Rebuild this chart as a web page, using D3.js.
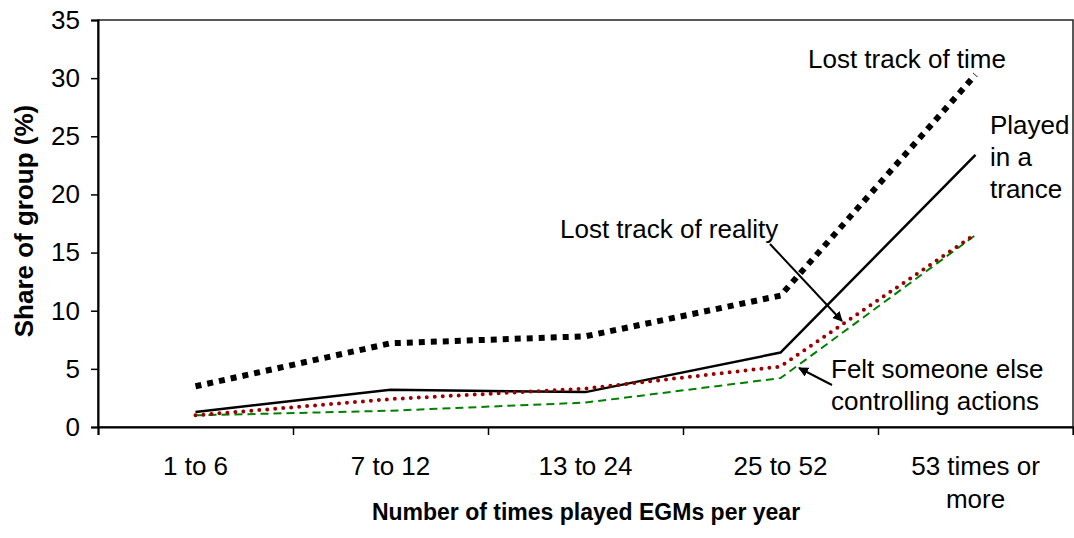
<!DOCTYPE html>
<html>
<head>
<meta charset="utf-8">
<script src="https://cdn.jsdelivr.net/npm/d3@7"></script>
<style>
  body { margin: 0; background: #fff; }
  text { font-family: Arial, "Liberation Sans", sans-serif; fill: #000; }
</style>
</head>
<body>
<div class="chart"></div>
<script>
var categories = ["1 to 6", "7 to 12", "13 to 24", "25 to 52", "53 times or more"];
var lostTime = [3.5, 7.2, 7.8, 11.3, 30.3];
var trance = [1.3, 3.2, 3.0, 6.4, 23.4];
var lostReality = [1.0, 2.4, 3.3, 5.2, 16.6];
var feltControl = [1.0, 1.4, 2.1, 4.2, 16.5];
var yTicks = [0, 5, 10, 15, 20, 25, 30, 35];

var svgWidth = 1074;
var svgHeight = 538;
var margin = { top: 20, right: 1, bottom: 111, left: 98 };
var width = svgWidth - margin.left - margin.right;
var height = svgHeight - margin.top - margin.bottom;

var svg = d3.select(".chart")
  .append("svg")
  .attr("width", svgWidth)
  .attr("height", svgHeight);

var chart = svg.append("g")
  .attr("transform", "translate(" + margin.left + "," + margin.top + ")");

var xBand = d3.scaleBand().domain(categories).range([0, width]);
var xEdge = d3.scaleLinear().domain([0, categories.length]).range([0, width]);
var yScale = d3.scaleLinear().domain([0, 35]).range([height, 0]);

// plot border (top and right)
chart.append("rect")
  .attr("width", width)
  .attr("height", height)
  .attr("fill", "none")
  .attr("stroke", "#222")
  .attr("stroke-width", 1.5);

// y axis
var leftAxis = d3.axisLeft(yScale).tickValues(yTicks).tickSize(7).tickPadding(11);
var gy = chart.append("g").call(leftAxis);
gy.select(".domain").attr("stroke-width", 2);
gy.selectAll(".tick line").attr("stroke-width", 1.5);
gy.selectAll(".tick text").style("font-size", "26px");

// x axis: ticks at category boundaries
var bottomAxis = d3.axisBottom(xEdge).ticks(categories.length).tickSize(8).tickFormat("");
var gx = chart.append("g")
  .attr("transform", "translate(0," + height + ")")
  .call(bottomAxis);
gx.select(".domain").attr("stroke-width", 2);
gx.selectAll(".tick line").attr("stroke-width", 1.5);

// category labels
chart.selectAll(".xlabel")
  .data(categories)
  .enter().append("text")
  .attr("class", "xlabel")
  .attr("text-anchor", "middle")
  .style("font-size", "26px")
  .each(function(d) {
    var t = d3.select(this);
    var parts = d === "53 times or more" ? ["53 times or", "more"] : [d];
    parts.forEach(function(p, i) {
      t.append("tspan")
        .attr("x", xBand(d) + xBand.bandwidth() / 2)
        .attr("y", height + 48 + i * 33)
        .text(p);
    });
  });

// lines
var line = d3.line()
  .x(function(d, i) { return xBand(categories[i]) + xBand.bandwidth() / 2; })
  .y(function(d) { return yScale(d); });

chart.append("path").datum(feltControl)
  .attr("d", line).attr("fill", "none")
  .attr("stroke", "#008000").attr("stroke-width", 2)
  .attr("stroke-dasharray", "8,5");

chart.append("path").datum(trance)
  .attr("d", line).attr("fill", "none")
  .attr("stroke", "#000").attr("stroke-width", 2.5);

chart.append("path").datum(lostReality)
  .attr("d", line).attr("fill", "none")
  .attr("stroke", "#990000").attr("stroke-width", 4)
  .attr("stroke-linecap", "round")
  .attr("stroke-dasharray", "0,8");

chart.append("path").datum(lostTime)
  .attr("d", line).attr("fill", "none")
  .attr("stroke", "#000").attr("stroke-width", 6)
  .attr("stroke-dasharray", "6,6");

// arrow marker
svg.append("defs").append("marker")
  .attr("id", "arrow")
  .attr("viewBox", "0 0 10 10")
  .attr("refX", 9).attr("refY", 5)
  .attr("markerWidth", 5).attr("markerHeight", 5)
  .attr("markerUnits", "strokeWidth")
  .attr("orient", "auto")
  .append("path")
  .attr("d", "M0,0 L10,5 L0,10 z")
  .attr("fill", "#000");

// annotations
function note(lines, x, y) {
  var t = svg.append("text").style("font-size", "26px");
  lines.forEach(function(s, i) {
    t.append("tspan").attr("x", x).attr("y", y + i * 32).text(s);
  });
}
note(["Lost track of time"], 808, 68);
note(["Played", "in a", "trance"], 990, 134);
note(["Lost track of reality"], 560, 238);
note(["Felt someone else", "controlling actions"], 831, 378);

svg.append("line")
  .attr("x1", 770).attr("y1", 244).attr("x2", 842).attr("y2", 321)
  .attr("stroke", "#000").attr("stroke-width", 2)
  .attr("marker-end", "url(#arrow)");

svg.append("line")
  .attr("x1", 832).attr("y1", 385).attr("x2", 799).attr("y2", 368)
  .attr("stroke", "#000").attr("stroke-width", 2)
  .attr("marker-end", "url(#arrow)");

// axis titles
svg.append("text")
  .attr("transform", "translate(33,221) rotate(-90)")
  .attr("text-anchor", "middle")
  .style("font-size", "26px")
  .style("font-weight", "bold")
  .text("Share of group (%)");

svg.append("text")
  .attr("x", 586)
  .attr("y", 520)
  .attr("text-anchor", "middle")
  .style("font-size", "23px")
  .style("font-weight", "bold")
  .text("Number of times played EGMs per year");
</script>
</body>
</html>
